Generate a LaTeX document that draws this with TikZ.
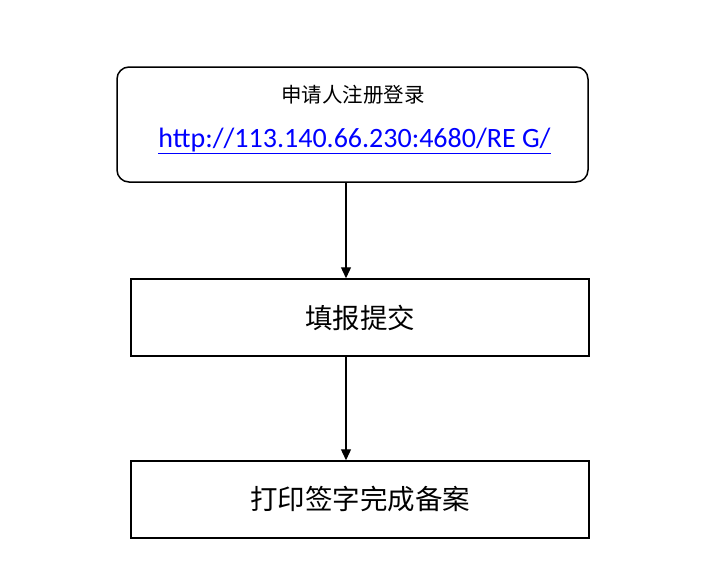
\documentclass[tikz,border=0pt]{standalone}
\usepackage{fontspec}
\setmainfont{Carlito}
\newfontfamily\cjk{Noto Sans CJK SC}
\usetikzlibrary{arrows.meta}
\begin{document}
\begin{tikzpicture}[x=1pt,y=-1pt,
  boxline/.style={draw=black,line width=1.5pt},
  arr/.style={draw=black,line width=1.3pt,-{Triangle[length=11pt,width=10pt]}}]
\useasboundingbox (0,0) rectangle (701,565);
\node[boxline,rounded corners=12pt,minimum width=471pt,minimum height=115pt,inner sep=0] (reg) at (352.5,124.5) {};
\coordinate (c1) at (346,182);
\coordinate (c2) at (346,356);
\node[font=\cjk\fontsize{20.5}{22}\selectfont] (t1) at (353,95) {申请人注册登录};
\node[font=\fontsize{28}{30}\selectfont] (url) at (354.5,141) {\color{blue}\underline{http://113.140.66.230:4680/RE G/}};
\node[boxline,minimum width=458pt,minimum height=77pt,inner sep=0,font=\cjk\fontsize{27.5}{29}\selectfont] (b2) at (360,317.5) {填报提交};
\node[boxline,minimum width=458pt,minimum height=77pt,inner sep=0,font=\cjk\fontsize{27.5}{29}\selectfont] (b3) at (360,499.5) {打印签字完成备案};
\draw[arr] (c1) -- (c1 |- b2.north);
\draw[arr] (c2) -- (c2 |- b3.north);
\end{tikzpicture}
\end{document}
